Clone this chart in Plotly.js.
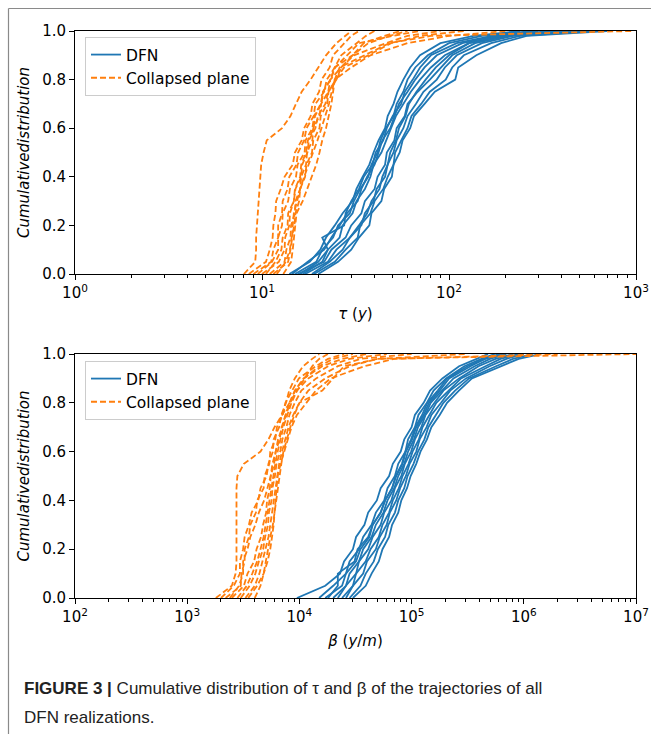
<!DOCTYPE html>
<html>
<head>
<meta charset="utf-8">
<script src="https://cdn.plot.ly/plotly-3.0.1.min.js"></script>
<style>
  html, body { margin: 0; padding: 0; background: #fff; }
  #chart { width: 651px; height: 734px; }
</style>
</head>
<body>
<div id="chart"></div>
<script>
// cumulative levels (y values of each empirical CDF)
const levels = [0, 0.05, 0.1, 0.15, 0.2, 0.25, 0.3, 0.35, 0.4, 0.45, 0.5, 0.55, 0.6, 0.65, 0.7, 0.75, 0.8, 0.85, 0.9, 0.95, 0.98, 1.0];

// Top panel: tau (y), DFN realizations
const tauDFN = [
  [14, 18, 20.5, 22, 24.5, 27, 30.5, 32, 34.5, 37.5, 39.5, 42, 45.5, 47, 50.5, 53, 57, 62, 70, 90, 135, 240],
  [15, 19.5, 21, 24, 25.5, 29.5, 31, 33.5, 37, 38.5, 41.5, 43, 46, 50.5, 52.5, 57, 60, 66, 77, 100, 150, 280],
  [16, 20, 22.5, 21, 27.5, 28, 30, 33, 35, 39, 40.5, 44.5, 46.5, 50, 55.5, 58, 64, 70, 80, 110, 170, 300],
  [14.5, 17.5, 21.5, 23.5, 26, 28.5, 32.5, 34, 36.5, 40, 42, 44, 48.5, 51, 54, 60, 66, 74, 86, 118, 180, 350],
  [16.5, 21, 22.5, 26, 27, 30.5, 32, 35.5, 38, 39.5, 43.5, 46, 49, 52, 57, 62.5, 70, 80, 95, 128, 200, 420],
  [17, 22.5, 25, 29.5, 33, 36.5, 38.5, 42.5, 44, 47, 48.5, 52, 54, 58.5, 61, 67, 75, 85, 100, 128, 190, 400],
  [18.5, 23, 27, 29.5, 34, 35.5, 39.5, 41, 45.5, 47, 50.5, 52.5, 57, 60, 66.5, 73, 86, 95, 110, 150, 220, 500],
  [19, 24.5, 28, 32.5, 33.5, 38, 40, 44.5, 47, 50.5, 51.5, 55.5, 60, 63, 71, 79, 96, 104, 120, 168, 240, 600],
  [20, 25.5, 30, 33, 37.5, 38.5, 43.5, 45, 49.5, 50.5, 54.5, 56.5, 62, 65, 74, 84, 108, 112, 140, 190, 260, 700],
  [15.5, 21.5, 23.5, 28, 30, 34, 35.5, 40, 41.5, 45.5, 46.5, 51, 52.5, 58, 60, 68, 79, 91, 104, 138, 210, 450]
];

// Top panel: tau (y), collapsed plane
const tauCollapsed = [
  [8.0, 9.2, 9.3, 9.3, 9.4, 9.5, 9.6, 9.7, 9.8, 9.9, 10.2, 10.6, 12.8, 14.2, 15.2, 16.3, 18.2, 20, 22, 25, 28, 30],
  [8.5, 10.5, 11.0, 11.4, 11.5, 11.8, 11.9, 12.6, 13.2, 14.6, 15.0, 16.3, 16.8, 18.2, 18.6, 20.2, 20.8, 23, 24, 27.5, 30, 33],
  [9.0, 11.2, 11.5, 12.2, 12.2, 12.8, 12.9, 13.7, 14.0, 15.3, 15.6, 16.8, 17.3, 18.9, 19.3, 21.5, 22.2, 24.5, 26.5, 32, 36, 40],
  [10, 12.3, 13.2, 13.3, 14.0, 14.1, 14.8, 15.0, 16.0, 16.2, 17.2, 17.6, 18.9, 19.2, 20.8, 21.2, 23.2, 24.5, 30.5, 37, 48, 60],
  [11, 13.2, 13.5, 14.2, 14.3, 15.0, 15.1, 16.0, 16.2, 17.2, 17.4, 18.6, 18.8, 20.3, 20.7, 22.6, 23.2, 26.5, 31, 46, 60, 90],
  [12, 13.4, 14.1, 14.4, 14.9, 15.1, 15.8, 16.0, 17.0, 17.3, 18.5, 18.8, 20.3, 20.6, 22.3, 22.7, 24.8, 27.5, 37, 49, 70, 120],
  [10.5, 11.8, 12.7, 12.9, 13.7, 13.8, 14.8, 15.1, 16.2, 16.4, 17.5, 17.8, 19.3, 19.9, 21.8, 22.6, 25, 26.5, 30.5, 35, 45, 55],
  [13, 14.3, 14.6, 14.8, 15, 15.3, 16.5, 17.5, 18.5, 19.5, 20.3, 21, 22, 22.8, 23.5, 24, 24.5, 30, 38, 60, 100, 200],
  [9.5, 11.3, 12.2, 12.2, 12.8, 12.9, 13.8, 14.1, 15.2, 15.5, 16.9, 17.1, 18.6, 19.0, 20.6, 21.2, 23.3, 24.6, 28.5, 33, 50, 70],
  [11.5, 13.8, 14.2, 14.5, 14.6, 14.8, 15.4, 16.0, 16.8, 17.8, 18.8, 19.8, 20.8, 21.8, 22.8, 23.6, 24.5, 26, 35, 48, 80, 950]
];

// Bottom panel: beta (y/m), DFN realizations
const betaDFN = [
  [9500, 17000, 23000, 25000, 30000, 32000, 38000, 41000, 49000, 53000, 63000, 68000, 80000, 86000, 100000, 107000, 128000, 146000, 188000, 265000, 380000, 480000],
  [15000, 20000, 26000, 28000, 34000, 37000, 44000, 48000, 57000, 61000, 71000, 76000, 88000, 93000, 107000, 115000, 137000, 157000, 203000, 295000, 420000, 550000],
  [18000, 22000, 22000, 31000, 33000, 41000, 45000, 53000, 58000, 67000, 73000, 83000, 89000, 101000, 110000, 128000, 143000, 178000, 216000, 335000, 450000, 600000],
  [20000, 26000, 28000, 34000, 37000, 44000, 48000, 56000, 61000, 70000, 76000, 86000, 93000, 105000, 114000, 132000, 148000, 188000, 236000, 365000, 500000, 700000],
  [22000, 26000, 32000, 34000, 41000, 45000, 53000, 57000, 66000, 71000, 81000, 87000, 99000, 107000, 122000, 133000, 160000, 192000, 265000, 395000, 560000, 800000],
  [24000, 30000, 32000, 39000, 43000, 51000, 55000, 63000, 68000, 77000, 83000, 94000, 102000, 116000, 125000, 145000, 166000, 214000, 276000, 455000, 620000, 900000],
  [26000, 30000, 37000, 40000, 48000, 52000, 60000, 64000, 73000, 79000, 89000, 96000, 110000, 118000, 136000, 150000, 183000, 221000, 305000, 495000, 700000, 1000000],
  [28000, 35000, 39000, 46000, 50000, 58000, 62000, 71000, 76000, 86000, 92000, 104000, 114000, 130000, 141000, 165000, 192000, 244000, 325000, 565000, 800000, 1200000],
  [30000, 39000, 44000, 51000, 55000, 63000, 67000, 76000, 81000, 91000, 98000, 110000, 120000, 137000, 150000, 178000, 207000, 264000, 345000, 625000, 900000, 1400000],
  [17000, 24000, 26000, 32000, 35000, 42000, 45000, 53000, 58000, 67000, 72000, 82000, 88000, 99000, 108000, 124000, 138000, 171000, 207000, 315000, 450000, 650000]
];

// Bottom panel: beta (y/m), collapsed plane
const betaCollapsed = [
  [1800, 2500, 2700, 2750, 2750, 2750, 2750, 2750, 2750, 2750, 2800, 3200, 4500, 5300, 6000, 7000, 8200, 9500, 11000, 13000, 15000, 18000],
  [2000, 2600, 2950, 2950, 3150, 3250, 3550, 3750, 4300, 4500, 5100, 5300, 5800, 5900, 6600, 6900, 7600, 8100, 9100, 10800, 13000, 15000],
  [2200, 3000, 3050, 3250, 3250, 3550, 3650, 4100, 4200, 4800, 4900, 5400, 5500, 6100, 6300, 7100, 7500, 8600, 9900, 14000, 18000, 25000],
  [2500, 3200, 3450, 3950, 4150, 4550, 4750, 5050, 5150, 5450, 5550, 5950, 6150, 6650, 6950, 7550, 8150, 9100, 10900, 16000, 24000, 40000],
  [2800, 3400, 3800, 4200, 4500, 4800, 5000, 5200, 5400, 5600, 5800, 6100, 6400, 6800, 7200, 7800, 8500, 9500, 12000, 18000, 28000, 60000],
  [3000, 3600, 4050, 4350, 4750, 4950, 5250, 5350, 5650, 5750, 6050, 6250, 6750, 7050, 7650, 8150, 9100, 10400, 14100, 22000, 35000, 100000],
  [3300, 4000, 4400, 4700, 5000, 5300, 5500, 5700, 5900, 6100, 6300, 6600, 7000, 7500, 8000, 8800, 10000, 12000, 17000, 28000, 50000, 300000],
  [3500, 4200, 4800, 5200, 5500, 5700, 5900, 6000, 6100, 6200, 6400, 6800, 7300, 7800, 8500, 9500, 11500, 14000, 19000, 38000, 70000, 2000000],
  [2400, 2900, 3150, 3150, 3450, 3650, 4050, 4350, 4850, 5150, 5550, 5750, 6150, 6450, 7050, 7550, 8350, 9150, 11000, 15000, 20000, 30000],
  [4000, 4500, 4800, 5000, 5200, 5500, 5800, 6000, 6200, 6400, 6600, 6900, 7200, 7700, 8300, 9000, 10000, 16000, 20000, 25000, 50000, 10000000]
];

const seriesNames = ["DFN", "Collapsed plane"];
const tauTickVals = [1, 10, 100, 1000];
const tauTickText = ["10<sup>0</sup>", "10<sup>1</sup>", "10<sup>2</sup>", "10<sup>3</sup>"];
const betaTickVals = [1e2, 1e3, 1e4, 1e5, 1e6, 1e7];
const betaTickText = ["10<sup>2</sup>", "10<sup>3</sup>", "10<sup>4</sup>", "10<sup>5</sup>", "10<sup>6</sup>", "10<sup>7</sup>"];
const yTickVals = [0, 0.2, 0.4, 0.6, 0.8, 1.0];

const BLUE = "#1f77b4", ORANGE = "#ff7f0e";
const FONT = "DejaVu Sans, sans-serif";

function minorTicks(p0, p1) {
  const v = [];
  for (let p = p0; p < p1; p++) for (let d = 2; d <= 9; d++) v.push(d * Math.pow(10, p));
  return v;
}

const traces = [];
function addSet(curves, color, dash, name, xa, ya, legend) {
  curves.forEach((xs, i) => {
    traces.push({
      x: xs, y: levels, xaxis: xa, yaxis: ya, type: "scatter", mode: "lines",
      line: { color: color, width: 1.8, dash: dash, shape: "linear" },
      name: name, showlegend: i === 0, legend: legend, hoverinfo: "skip"
    });
  });
}
addSet(tauDFN, BLUE, "solid", seriesNames[0], "x", "y", "legend");
addSet(tauCollapsed, ORANGE, "6px,3px", seriesNames[1], "x", "y", "legend");
addSet(betaDFN, BLUE, "solid", seriesNames[0], "x2", "y2", "legend2");
addSet(betaCollapsed, ORANGE, "6px,3px", seriesNames[1], "x2", "y2", "legend2");

const W = 651, H = 734;
const xDom = [75 / W, 636 / W];
const yDomTop = [1 - 274 / H, 1 - 31 / H];
const yDomBot = [1 - 598 / H, 1 - 354 / H];

function xAxis(dom, anchor, range, tv, tt, minorV, title, standoff) {
  return {
    type: "log", domain: dom, anchor: anchor, range: range,
    tickmode: "array", tickvals: tv, ticktext: tt,
    ticks: "outside", ticklen: 5, tickwidth: 1, tickcolor: "#000",
    showline: true, linecolor: "#000", linewidth: 1, mirror: true,
    showgrid: false, zeroline: false,
    tickfont: { family: FONT, size: 15, color: "#000" },
    minor: { tickmode: "array", tickvals: minorV, ticks: "outside", ticklen: 3, tickcolor: "#000", showgrid: false },
    title: { text: title, font: { family: FONT, size: 15, color: "#000" }, standoff: standoff }
  };
}
function yAxis(dom, anchor) {
  return {
    domain: dom, anchor: anchor, range: [0, 1],
    tickmode: "array", tickvals: yTickVals, tickformat: ".1f",
    ticks: "outside", ticklen: 5, tickwidth: 1, tickcolor: "#000",
    showline: true, linecolor: "#000", linewidth: 1, mirror: true,
    showgrid: false, zeroline: false,
    tickfont: { family: FONT, size: 15, color: "#000" },
    title: { text: "<i>Cumulativedistribution</i>", font: { family: FONT, size: 15, color: "#000" }, standoff: 8 }
  };
}
const legendStyle = (y) => ({
  x: 85 / W, y: y, xanchor: "left", yanchor: "top",
  bgcolor: "rgba(255,255,255,0.8)", bordercolor: "#cccccc", borderwidth: 1,
  font: { family: FONT, size: 15.5, color: "#000" }, tracegroupgap: 0
});

const layout = {
  width: W, height: H,
  margin: { l: 0, r: 0, t: 0, b: 0 },
  paper_bgcolor: "#fff", plot_bgcolor: "#fff",
  showlegend: true,
  xaxis: xAxis(xDom, "y", [0, 3], tauTickVals, tauTickText, minorTicks(0, 3), "<i>τ</i> (<i>y</i>)", 7),
  yaxis: yAxis(yDomTop, "x"),
  xaxis2: xAxis(xDom, "y2", [2, 7], betaTickVals, betaTickText, minorTicks(2, 7), "<i>β</i> (<i>y</i>/<i>m</i>)", 10),
  yaxis2: yAxis(yDomBot, "x2"),
  legend: legendStyle(1 - 37 / H),
  legend2: legendStyle(1 - 361 / H),
  shapes: [
    { type: "line", xref: "paper", yref: "paper", x0: 8.5 / W, x1: 1, y0: 1 - 8.5 / H, y1: 1 - 8.5 / H, line: { color: "#8a8a8a", width: 1.2 } },
    { type: "line", xref: "paper", yref: "paper", x0: 8.5 / W, x1: 8.5 / W, y0: 0, y1: 1 - 8.5 / H, line: { color: "#8a8a8a", width: 1.2 } }
  ],
  annotations: [
    { xref: "paper", yref: "paper", x: 22 / W, y: 1 - 688 / H, xanchor: "left", yanchor: "middle", showarrow: false, align: "left",
      text: "<b>FIGURE 3 |</b> Cumulative distribution of τ and β of the trajectories of all",
      font: { family: "Liberation Sans Narrow, Arial Narrow, Liberation Sans, sans-serif", size: 17, color: "#222" } },
    { xref: "paper", yref: "paper", x: 22 / W, y: 1 - 717 / H, xanchor: "left", yanchor: "middle", showarrow: false, align: "left",
      text: "DFN realizations.",
      font: { family: "Liberation Sans Narrow, Arial Narrow, Liberation Sans, sans-serif", size: 17, color: "#222" } }
  ]
};

Plotly.newPlot("chart", traces, layout, { displayModeBar: false, staticPlot: true });
</script>
</body>
</html>
